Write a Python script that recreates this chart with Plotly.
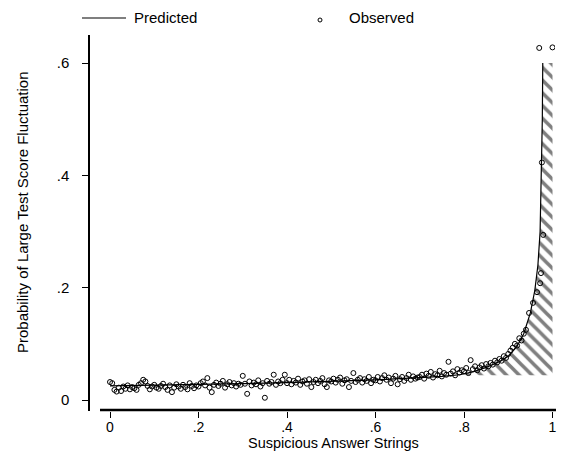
import plotly.graph_objects as go

# ---------------- data ----------------
obs_x = [
    0.000, 0.005, 0.010, 0.015, 0.020, 0.025, 0.030, 0.035, 0.040, 0.045,
    0.050, 0.055, 0.060, 0.065, 0.070, 0.075, 0.080, 0.085, 0.090, 0.095,
    0.100, 0.105, 0.110, 0.115, 0.120, 0.125, 0.130, 0.135, 0.140, 0.145,
    0.150, 0.155, 0.160, 0.165, 0.170, 0.175, 0.180, 0.185, 0.190, 0.195,
    0.200, 0.205, 0.210, 0.215, 0.220, 0.225, 0.230, 0.235, 0.240, 0.245,
    0.250, 0.255, 0.260, 0.265, 0.270, 0.275, 0.280, 0.285, 0.290, 0.295,
    0.300, 0.305, 0.310, 0.315, 0.320, 0.325, 0.330, 0.335, 0.340, 0.345,
    0.350, 0.355, 0.360, 0.365, 0.370, 0.375, 0.380, 0.385, 0.390, 0.395,
    0.400, 0.405, 0.410, 0.415, 0.420, 0.425, 0.430, 0.435, 0.440, 0.445,
    0.450, 0.455, 0.460, 0.465, 0.470, 0.475, 0.480, 0.485, 0.490, 0.495,
    0.500, 0.505, 0.510, 0.515, 0.520, 0.525, 0.530, 0.535, 0.540, 0.545,
    0.550, 0.555, 0.560, 0.565, 0.570, 0.575, 0.580, 0.585, 0.590, 0.595,
    0.600, 0.605, 0.610, 0.615, 0.620, 0.625, 0.630, 0.635, 0.640, 0.645,
    0.650, 0.655, 0.660, 0.665, 0.670, 0.675, 0.680, 0.685, 0.690, 0.695,
    0.700, 0.705, 0.710, 0.715, 0.720, 0.725, 0.730, 0.735, 0.740, 0.745,
    0.750, 0.755, 0.760, 0.765, 0.770, 0.775, 0.780, 0.785, 0.790, 0.795,
    0.800, 0.805, 0.810, 0.815, 0.820, 0.825, 0.830, 0.835, 0.840, 0.845,
    0.850, 0.855, 0.860, 0.865, 0.870, 0.875, 0.880, 0.885, 0.890, 0.895,
    0.900, 0.905, 0.910, 0.915, 0.920, 0.925, 0.930, 0.935, 0.940,
    0.947, 0.956, 0.965, 0.972, 0.974, 0.979, 0.976, 0.970, 1.000,
]
obs_y = [
    0.032, 0.030, 0.018, 0.015, 0.022, 0.016, 0.024, 0.020, 0.026, 0.019,
    0.023, 0.021, 0.018, 0.027, 0.030, 0.036, 0.033, 0.025, 0.019, 0.024,
    0.027, 0.022, 0.020, 0.025, 0.029, 0.023, 0.018, 0.026, 0.014, 0.022,
    0.028, 0.024, 0.020, 0.027, 0.023, 0.019, 0.030, 0.025, 0.021, 0.026,
    0.024, 0.030, 0.033, 0.026, 0.039, 0.022, 0.014, 0.027, 0.031, 0.025,
    0.029, 0.034, 0.022, 0.028, 0.032, 0.026, 0.030, 0.024, 0.029, 0.027,
    0.043, 0.029, 0.011, 0.033, 0.026, 0.031, 0.028, 0.035, 0.024, 0.030,
    0.004, 0.034, 0.029, 0.032, 0.045, 0.027, 0.033, 0.030, 0.036, 0.045,
    0.030, 0.036, 0.028, 0.034, 0.031, 0.038, 0.027, 0.033, 0.035, 0.029,
    0.037, 0.023, 0.032, 0.036, 0.030, 0.034, 0.039, 0.028, 0.023, 0.035,
    0.033, 0.038, 0.031, 0.036, 0.040, 0.029, 0.035, 0.037, 0.023, 0.034,
    0.048, 0.032, 0.036, 0.039, 0.031, 0.037, 0.034, 0.041, 0.030, 0.036,
    0.035, 0.041, 0.033, 0.039, 0.044, 0.036, 0.040, 0.030, 0.038, 0.043,
    0.028, 0.037, 0.041, 0.034, 0.039, 0.045, 0.036, 0.042, 0.038, 0.040,
    0.041, 0.045, 0.038, 0.047, 0.043, 0.050, 0.040, 0.046, 0.044, 0.052,
    0.042, 0.048, 0.045, 0.068, 0.047, 0.051, 0.044, 0.055, 0.049, 0.053,
    0.051, 0.057, 0.048, 0.071, 0.055, 0.060, 0.053, 0.058, 0.062, 0.056,
    0.064, 0.060, 0.066, 0.063, 0.070, 0.067, 0.073, 0.070, 0.078, 0.075,
    0.082, 0.088, 0.093, 0.100, 0.097, 0.110, 0.106, 0.118, 0.125,
    0.155, 0.173, 0.192, 0.208, 0.226, 0.294, 0.423, 0.627, 0.628,
]

pred_x = [0.0, 0.1, 0.2, 0.3, 0.4, 0.5, 0.6, 0.7, 0.75, 0.79, 0.82, 0.85,
          0.88, 0.9, 0.92, 0.935, 0.95, 0.96, 0.967, 0.972, 0.975, 0.977, 0.978]
pred_y = [0.025, 0.026, 0.027, 0.029, 0.031, 0.033, 0.036, 0.040, 0.042, 0.045, 0.050, 0.058,
          0.068, 0.078, 0.096, 0.118, 0.155, 0.195, 0.24, 0.30, 0.40, 0.50, 0.60]

hatch_start = 0.79
hatch_base = 0.044
hatch_right = 1.0

x_tickvals = [0, 0.2, 0.4, 0.6, 0.8, 1.0]
x_ticktext = ["0", ".2", ".4", ".6", ".8", "1"]
y_tickvals = [0, 0.2, 0.4, 0.6]
y_ticktext = ["0", ".2", ".4", ".6"]

# hatched region between predicted curve and baseline
hx = [hatch_start] + [x for x in pred_x if x >= hatch_start] + [hatch_right, hatch_right]
hy = [hatch_base] + [y for x, y in zip(pred_x, pred_y) if x >= hatch_start] + [pred_y[-1], hatch_base]

FONT = "Liberation Sans, Arial, sans-serif"

fig = go.Figure()
fig.add_trace(go.Scatter(
    x=hx, y=hy, mode="lines", fill="toself",
    line=dict(width=0, color="rgba(0,0,0,0)"),
    fillcolor="rgba(0,0,0,0)",
    fillpattern=dict(shape="\\", fgcolor="black", bgcolor="rgba(0,0,0,0)",
                     size=9, solidity=0.4),
    showlegend=False, hoverinfo="skip",
))
fig.add_trace(go.Scatter(
    x=pred_x, y=pred_y, mode="lines", name="Predicted",
    line=dict(color="black", width=1.2), showlegend=False,
))
fig.add_trace(go.Scatter(
    x=obs_x, y=obs_y, mode="markers", name="Observed",
    marker=dict(symbol="circle-open", size=5, color="black", line=dict(width=1, color="black")),
    showlegend=False,
))

# custom legend (paper coordinates)
W, H = 561, 451
ml, mr, mt, mb = 90, 6, 35, 40
pw, ph = W - ml - mr, H - mt - mb
def px(xp):
    return (xp - ml) / pw
def py(yp):
    return (H - mb - yp) / ph

# x axis line
fig.add_shape(type="line", xref="paper", yref="paper", layer="above",
              x0=px(100), x1=px(556), y0=py(410), y1=py(410),
              line=dict(color="black", width=2.5))

fig.add_shape(type="line", xref="paper", yref="paper",
              x0=px(82), x1=px(126), y0=py(18), y1=py(18),
              line=dict(color="black", width=1.2))
fig.add_shape(type="circle", xref="paper", yref="paper",
              x0=px(318), x1=px(322), y0=py(22), y1=py(18),
              line=dict(color="black", width=1))
fig.add_annotation(text="Predicted", xref="paper", yref="paper", x=px(132), y=py(18),
                   xanchor="left", yanchor="middle", showarrow=False,
                   font=dict(family=FONT, size=15, color="black"))
fig.add_annotation(text="Observed", xref="paper", yref="paper", x=px(347), y=py(18),
                   xanchor="left", yanchor="middle", showarrow=False,
                   font=dict(family=FONT, size=15, color="black"))

# axis titles
fig.add_annotation(text="Suspicious Answer Strings", xref="x", yref="paper", x=0.506, y=py(443),
                   xanchor="center", yanchor="middle", showarrow=False,
                   font=dict(family=FONT, size=14.5, color="black"))
fig.add_annotation(text="Probability of Large Test Score Fluctuation", xref="paper", yref="y",
                   x=px(22), y=(400 - 212) / 561.5, textangle=-90,
                   xanchor="center", yanchor="middle", showarrow=False,
                   font=dict(family=FONT, size=15, color="black"))

fig.update_layout(
    width=W, height=H,
    margin=dict(l=ml, r=mr, t=mt, b=mb, pad=0, autoexpand=False),
    paper_bgcolor="white", plot_bgcolor="white",
    font=dict(family=FONT, size=15, color="black"),
    showlegend=False,
)
fig.update_xaxes(
    range=[-20 / 442.5, 445 / 442.5], tickvals=x_tickvals, ticktext=x_ticktext,
    showline=False, ticks="outside", ticklen=6,
    tickcolor="black", tickwidth=1.2, showgrid=False, zeroline=False, automargin=False,
    tickfont=dict(size=14), ticklabelstandoff=-3,
)
fig.update_yaxes(
    range=[-11 / 561.5, 365 / 561.5], tickvals=y_tickvals, ticktext=y_ticktext,
    showline=True, linecolor="black", linewidth=1.5, ticks="outside", ticklen=6,
    tickcolor="black", tickwidth=1.2, showgrid=False, zeroline=False, ticklabelstandoff=10,
    automargin=False, tickfont=dict(size=15),
)

fig.write_html(
    "out.html",
    config={"displayModeBar": False},
    post_script="document.body.style.margin='0px';document.body.style.overflow='hidden';",
)
